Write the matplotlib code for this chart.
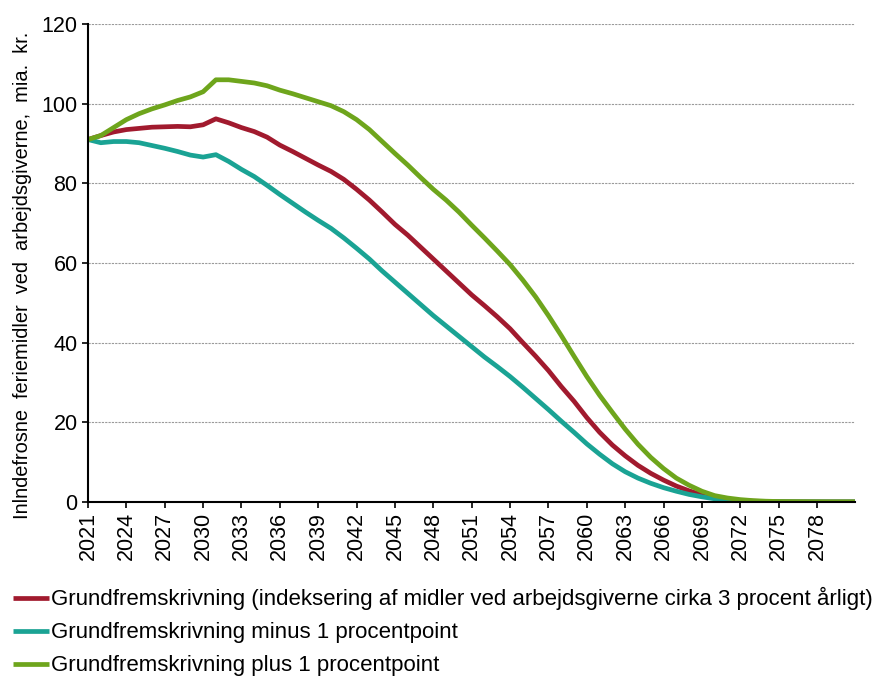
#!/usr/bin/env python3
"""Frozen holiday funds at employers, three scenarios, 2021-2081."""

import matplotlib
matplotlib.use("Agg")
import matplotlib.pyplot as plt

plt.rcParams['font.family'] = ['Liberation Sans', 'DejaVu Sans']

years = list(range(2021, 2082))

# Grundfremskrivning (base case)
base = [91.0, 92.0, 92.9, 93.5, 93.8, 94.1, 94.2, 94.3, 94.2, 94.7, 96.2,
        95.2, 94.0, 93.0, 91.6, 89.6, 88.0, 86.3, 84.6, 83.0, 81.0,
        78.5, 75.8, 72.8, 69.7, 67.0, 64.0, 61.0, 58.0, 55.0, 52.0,
        49.3, 46.5, 43.5, 40.0, 36.6, 33.0, 29.0, 25.3, 21.2, 17.5,
        14.3, 11.6, 9.2, 7.2, 5.5, 4.0, 2.8, 1.8, 1.1, 0.6,
        0.35, 0.2, 0.12, 0.08, 0.05, 0.04, 0.03, 0.02, 0.02, 0.02]

# minus 1 procentpoint
minus1 = [91.0, 90.2, 90.5, 90.5, 90.2, 89.5, 88.8, 88.0, 87.1, 86.6, 87.2,
          85.5, 83.5, 81.7, 79.5, 77.2, 75.0, 72.8, 70.7, 68.7, 66.3,
          63.7, 61.0, 58.0, 55.2, 52.4, 49.6, 46.8, 44.2, 41.6, 39.0,
          36.4, 34.0, 31.5, 28.8, 26.0, 23.2, 20.3, 17.5, 14.6, 12.0,
          9.6, 7.6, 6.0, 4.7, 3.6, 2.7, 1.9, 1.3, 0.8, 0.5,
          0.3, 0.15, 0.08, 0.05, 0.03, 0.02, 0.02, 0.01, 0.01, 0.01]

# plus 1 procentpoint
plus1 = [91.0, 92.0, 94.0, 96.0, 97.5, 98.7, 99.7, 100.8, 101.7, 103.0, 106.0,
         106.0, 105.6, 105.2, 104.5, 103.4, 102.5, 101.5, 100.5, 99.5, 98.0,
         96.0, 93.5, 90.5, 87.5, 84.6, 81.5, 78.5, 75.8, 72.8, 69.5,
         66.3, 63.0, 59.6, 55.7, 51.5, 46.8, 41.8, 36.6, 31.5, 26.8,
         22.5, 18.3, 14.5, 11.2, 8.4, 6.0, 4.2, 2.7, 1.6, 1.0,
         0.6, 0.35, 0.2, 0.12, 0.1, 0.08, 0.06, 0.05, 0.05, 0.05]

labels = ["Grundfremskrivning (indeksering af midler ved arbejdsgiverne cirka 3 procent årligt)",
          "Grundfremskrivning minus 1 procentpoint",
          "Grundfremskrivning plus 1 procentpoint"]
colors = ['#A11A2E', '#1AA394', '#6EA51C']

fig = plt.figure(figsize=(8.74, 6.77), dpi=100)
ax = fig.add_axes([0.1007, 0.2585, 0.878, 0.706])

lines = []
for series, color, label in zip([base, minus1, plus1], colors, labels):
    ln, = ax.plot(years, series, color=color, linewidth=3.4, label=label,
                  solid_capstyle='butt', solid_joinstyle='round')
    lines.append(ln)

ax.set_xlim(2021, 2081)
ax.set_ylim(0, 120)
ax.set_yticks(range(0, 121, 20))
ax.set_xticks(range(2021, 2081, 3))
ax.set_xticklabels([str(y) for y in range(2021, 2081, 3)], rotation=90)

ax.grid(axis='y', color='#9a9a9a', linestyle=(0, (2, 1)), linewidth=0.8)
ax.set_axisbelow(True)
for side in ['top', 'right']:
    ax.spines[side].set_visible(False)
for side in ['left', 'bottom']:
    ax.spines[side].set_linewidth(1.5)
    ax.spines[side].set_color('black')
ax.tick_params(axis='both', direction='out', length=4, width=1.2,
               labelsize=15.5, colors='black')
ax.tick_params(axis='x', pad=3)

ax.set_ylabel("Inlndefrosne  feriemidler  ved  arbejdsgiverne,  mia.  kr.",
              fontsize=14.4)
ax.yaxis.set_label_coords(-0.073, 0.475)

fig.legend(handles=lines, loc='upper left', bbox_to_anchor=(0.015, 0.1326),
           frameon=False, fontsize=16, handlelength=1.6, handletextpad=0.1,
           labelspacing=0.54, borderaxespad=0, borderpad=0)

fig.savefig('out.png', dpi=100)
